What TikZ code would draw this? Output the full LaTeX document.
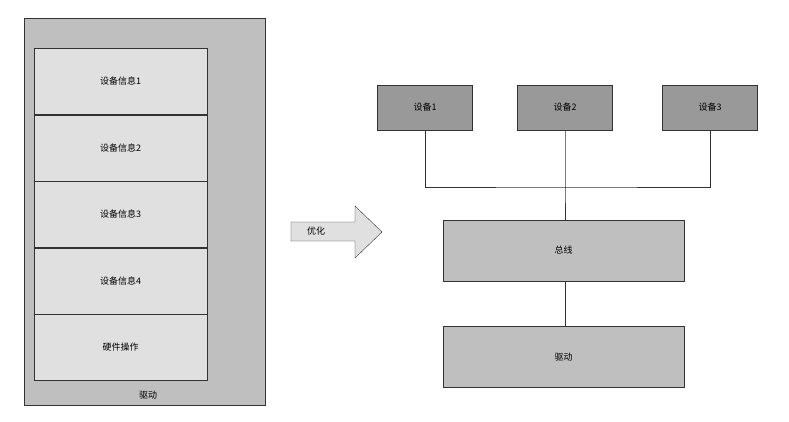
\documentclass[tikz,border=0pt]{standalone}
\usepackage{fontspec}
\setmainfont{Liberation Serif}
\newfontfamily\cjk{Noto Sans CJK SC}
\usetikzlibrary{positioning}
\definecolor{MidGray}{gray}{0.75}
\definecolor{LightGray}{gray}{0.88}
\definecolor{DarkGray}{gray}{0.60}
\tikzset{
  infobox/.style={draw=black!80,fill=LightGray,minimum width=173pt,minimum height=66pt,inner sep=0pt,font=\cjk\small},
  devbox/.style={draw=black!80,fill=DarkGray,minimum width=95pt,minimum height=45pt,inner sep=0pt,font=\cjk\small},
  bigbox/.style={draw=black!80,fill=MidGray,minimum width=241pt,minimum height=61pt,inner sep=0pt,font=\cjk\small},
  wire/.style={draw=black!80,line width=.6pt}
}
\begin{document}
\begin{tikzpicture}[x=1pt,y=-1pt]
\useasboundingbox (0,0) rectangle (789,421);
\draw[black!80,fill=MidGray] (24,18) rectangle (265,405);
\node[infobox] (i1) at (120.5,81.5) {设备信息1};
\node[infobox,below=0pt of i1] (i2) {设备信息2};
\node[infobox,below=0pt of i2] (i3) {设备信息3};
\node[infobox,below=0pt of i3] (i4) {设备信息4};
\node[infobox,below=0pt of i4] (hw) {硬件操作};
\node[font=\cjk\small] (drvl) at (148,395) {驱动};

% arrow
\draw[black!80,fill=LightGray] (291,222) -- (355,222) -- (355,206) -- (382,232)
  -- (355,258) -- (355,241) -- (291,241) -- cycle;
\node[font=\cjk\small] (opt) at (316,231) {优化};

\node[devbox] (d1) at (425,107.5) {设备1};
\node[devbox] (d2) at (565,107.5) {设备2};
\node[devbox] (d3) at (710,107.5) {设备3};
\node[bigbox] (bus) at (563.5,250.5) {总线};
\node[bigbox] (drv) at (563.5,357) {驱动};
\coordinate (j) at (565,187);
\path[wire] (d1.south) |- (j) -| (d3.south);
\path[wire] (d2.south) -- (j) -- (j |- bus.north);
\path[wire] (bus.south -| j) -- (drv.north -| j);
\end{tikzpicture}
\end{document}
